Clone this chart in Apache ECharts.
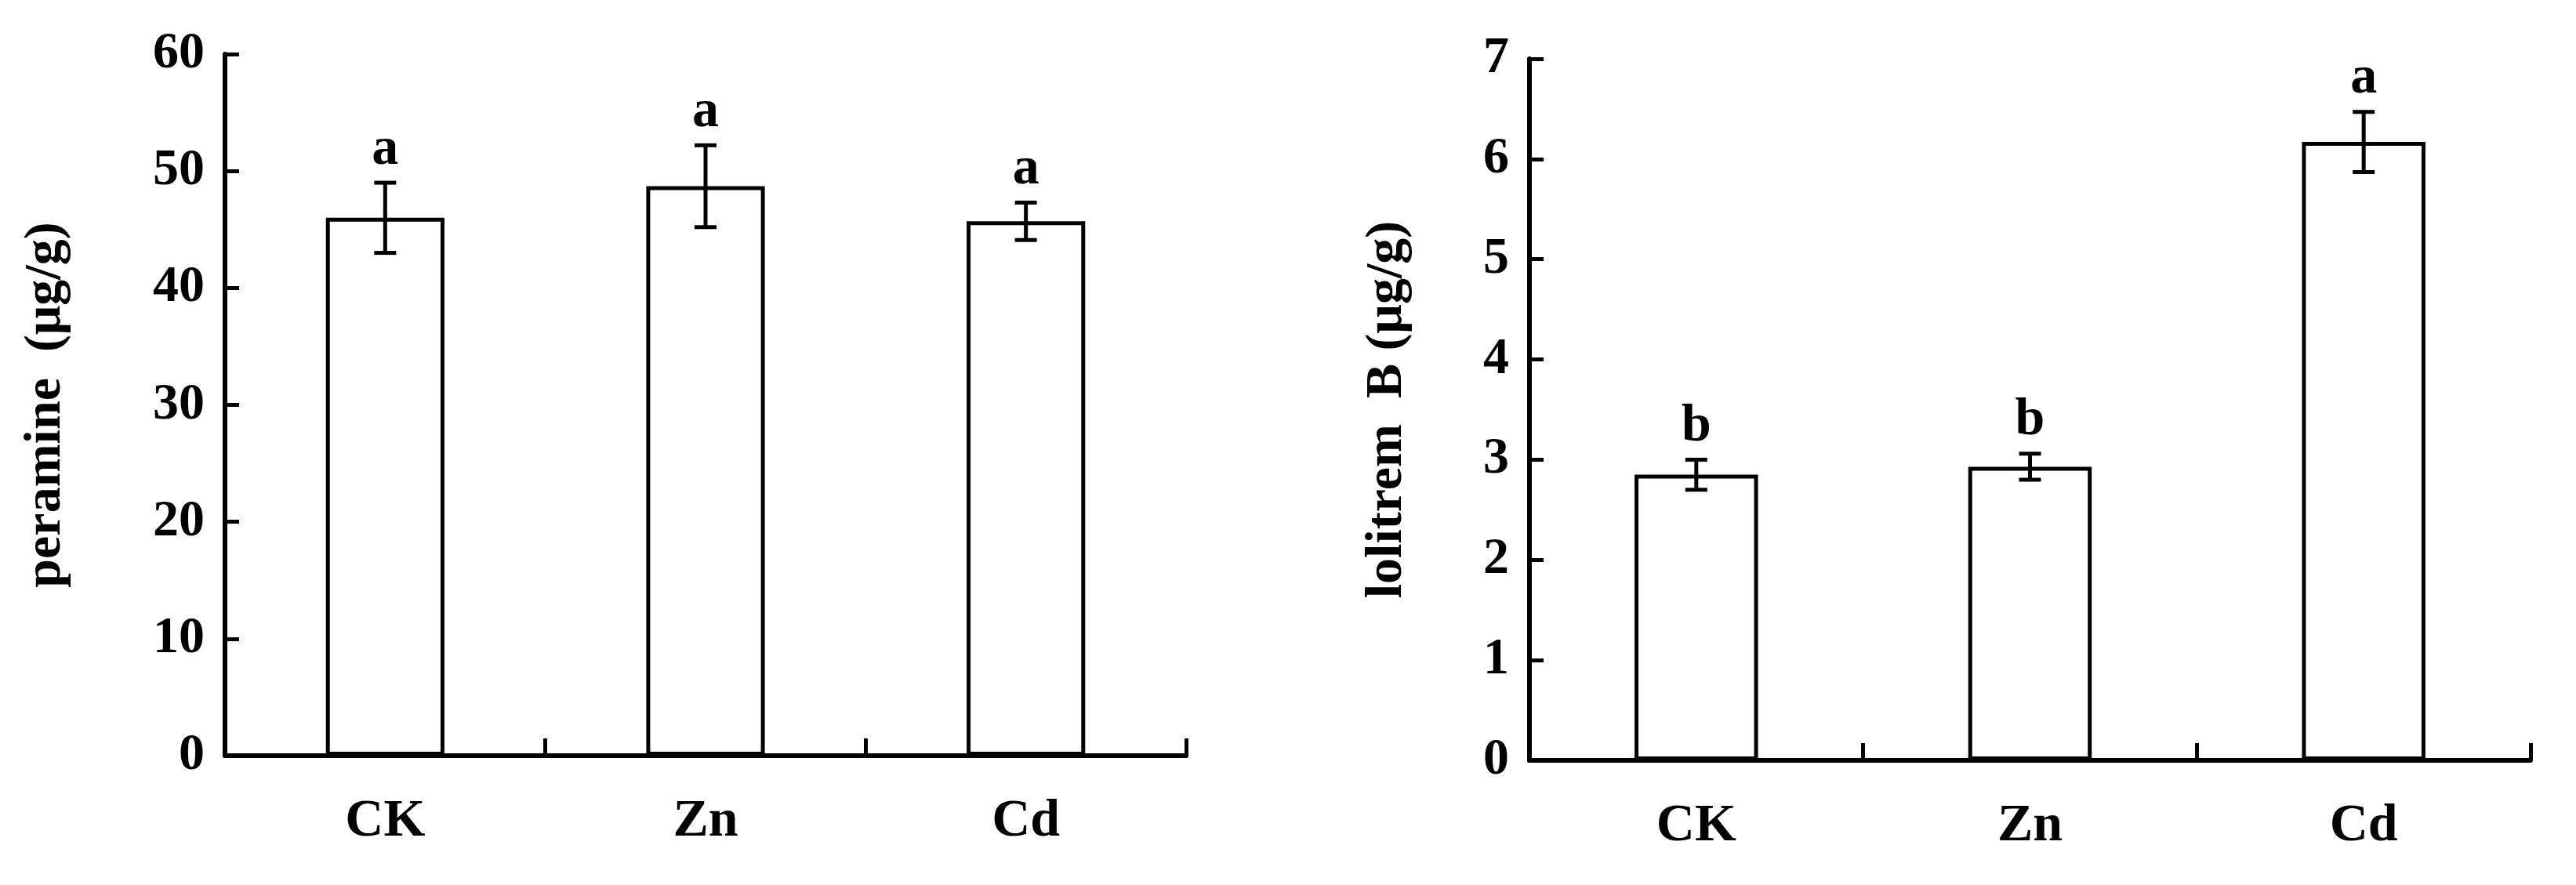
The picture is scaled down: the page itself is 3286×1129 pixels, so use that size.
<!DOCTYPE html>
<html>
<head>
<meta charset="utf-8">
<script src="https://cdn.jsdelivr.net/npm/echarts@6/dist/echarts.min.js"></script>
<style>html,body{margin:0;background:#fff}#chart{width:3286px;height:1129px}</style>
</head>
<body>
<div id="chart"></div>
<script>
var categories = ['CK', 'Zn', 'Cd'];
var peramine = [46.0, 48.7, 45.7];
var peramineErr = [3.0, 3.5, 1.6];
var peramineSig = ['a', 'a', 'a'];
var lolitrem = [2.85, 2.93, 6.17];
var lolitremErr = [0.15, 0.13, 0.30];
var lolitremSig = ['b', 'b', 'a'];

var font = 'Liberation Serif';
var dom = document.getElementById('chart');
var myChart = echarts.init(dom);

function errSeries(idx, vals, errs, sig) {
	return {
		type: 'custom',
		xAxisIndex: idx, yAxisIndex: idx,
		data: vals.map(function (v, i) { return [i, v - errs[i], v + errs[i]]; }),
		renderItem: function (params, api) {
			var lo = api.coord([api.value(0), api.value(1)]);
			var hi = api.coord([api.value(0), api.value(2)]);
			var w = 14;
			var st = { stroke: '#000', lineWidth: 5 };
			return {
				type: 'group',
				children: [
					{ type: 'line', shape: { x1: hi[0], y1: hi[1], x2: lo[0], y2: lo[1] }, style: st },
					{ type: 'line', shape: { x1: hi[0] - w, y1: hi[1], x2: hi[0] + w, y2: hi[1] }, style: st },
					{ type: 'line', shape: { x1: lo[0] - w, y1: lo[1], x2: lo[0] + w, y2: lo[1] }, style: st },
					{ type: 'text', x: hi[0], y: hi[1] - 8, style: {
						text: sig[params.dataIndex], fill: '#000', font: 'bold 68px ' + font,
						textAlign: 'center', textVerticalAlign: 'bottom' } }
				]
			};
		},
		z: 5
	};
}

function xAxis(idx) {
	return {
		type: 'category', gridIndex: idx, data: categories,
		axisLine: { lineStyle: { color: '#000', width: 6 } },
		axisTick: { show: true, interval: 0, inside: true, length: 22, lineStyle: { color: '#000', width: 5 } },
		axisLabel: { color: '#000', fontFamily: font, fontWeight: 'bold', fontSize: 68, margin: 50 }
	};
}
function yAxis(idx, max, interval, name) {
	return {
		type: 'value', gridIndex: idx, min: 0, max: max, interval: interval,
		name: name, nameLocation: 'middle', nameGap: idx === 0 ? 195 : 148,
		nameTextStyle: { color: '#000', fontFamily: font, fontWeight: 'bold', fontSize: 66 },
		axisLine: { show: true, lineStyle: { color: '#000', width: 6 } },
		axisTick: { show: true, inside: true, length: 18, lineStyle: { color: '#000', width: 5 } },
		axisLabel: { color: '#000', fontFamily: font, fontWeight: 'bold', fontSize: 66, margin: 26 },
		splitLine: { show: false }
	};
}
function barSeries(idx, vals) {
	return {
		type: 'bar', xAxisIndex: idx, yAxisIndex: idx, data: vals, barWidth: '37%',
		itemStyle: { color: '#fff', borderColor: '#000', borderWidth: 5 }
	};
}

var option = {
	animation: false,
	backgroundColor: '#fff',
	grid: [
		{ left: 287, top: 69, width: 1226, height: 895 },
		{ left: 1951, top: 75, width: 1277, height: 895 }
	],
	xAxis: [xAxis(0), xAxis(1)],
	yAxis: [yAxis(0, 60, 10, 'peramine  (μg/g)'), yAxis(1, 7, 1, 'lolitrem  B (μg/g)')],
	series: [
		barSeries(0, peramine), errSeries(0, peramine, peramineErr, peramineSig),
		barSeries(1, lolitrem), errSeries(1, lolitrem, lolitremErr, lolitremSig)
	]
};
myChart.setOption(option);
</script>
</body>
</html>
